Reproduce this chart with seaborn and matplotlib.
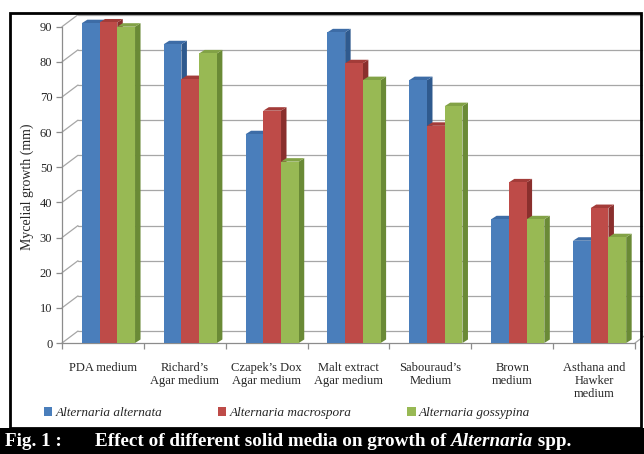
import matplotlib
matplotlib.use("Agg")
import matplotlib.pyplot as plt
import seaborn as sns
import pandas as pd
from matplotlib.patches import Polygon, Rectangle, Patch

# ---- data -------------------------------------------------------------
media = ["PDA medium", "Richard’s\nAgar medium", "Czapek’s Dox\nAgar medium",
         "Malt extract\nAgar medium", "Sabouraud’s\nMedium", "Brown\nmedium",
         "Asthana and\nHawker\nmedium"]
species = ["Alternaria alternata", "Alternaria macrospora", "Alternaria gossypina"]
alternata = [91.0, 85.0, 59.4, 88.4, 74.8, 35.2, 29.1]
macrospora = [91.2, 75.1, 66.1, 79.6, 61.8, 45.7, 38.4]
gossypina = [90.0, 82.4, 51.6, 74.8, 67.4, 35.2, 30.1]
y_ticks = list(range(0, 91, 10))

front_colors = ["#4a7ebb", "#be4b48", "#98b954"]
side_colors = ["#2f5a8e", "#8a2f2d", "#6a8a36"]
top_colors = ["#3d6ca6", "#a33c39", "#82a246"]

df = pd.DataFrame({
    "medium": media * 3,
    "species": [s for s in species for _ in media],
    "value": alternata + macrospora + gossypina,
})

sns.set_theme(style="white")
plt.rcParams["font.family"] = ["Liberation Serif", "DejaVu Serif"]

W, H = 644, 454
fig = plt.figure(figsize=(W / 100, H / 100), dpi=100)

# axes placement in pixels
x0_px, x1_px = 62, 635
y0_px, y90_px = 343, 26.7
ax = fig.add_axes([x0_px / W, 1 - y0_px / H, (x1_px - x0_px) / W, (y0_px - y90_px) / H])

sns.barplot(data=df, x="medium", y="value", hue="species", order=media,
            hue_order=species, palette=front_colors, width=0.65, saturation=1,
            legend=False, ax=ax, linewidth=0, edgecolor="none")

ax.set_xlim(-0.5, 6.5)
ax.set_ylim(0, 90)

px_x = (x1_px - x0_px) / 7.0          # pixels per category
px_y = (y0_px - y90_px) / 90.0        # pixels per unit

# 3-D extrusion of each bar
shift = 5.5 / px_x
dx, dy = 5.5 / px_x, 3.5 / px_y
bars = sorted(ax.patches, key=lambda p: p.get_x())
for i, bar in enumerate(bars):
    bar.set_x(bar.get_x() + shift)
    bar.set_clip_on(False)
    col_idx = front_colors.index(matplotlib.colors.to_hex(bar.get_facecolor()))
    base = 3 + i * 0.1
    bar.set_zorder(base + 0.05)
    bx0, bx1 = bar.get_x(), bar.get_x() + bar.get_width()
    h = bar.get_height()
    side = Polygon([(bx1, 0), (bx1 + dx, dy), (bx1 + dx, h + dy), (bx1, h)],
                   closed=True, facecolor=side_colors[col_idx], edgecolor="none",
                   zorder=base, clip_on=False)
    top = Polygon([(bx0, h), (bx0 + dx, h + dy), (bx1 + dx, h + dy), (bx1, h)],
                  closed=True, facecolor=top_colors[col_idx], edgecolor="none",
                  zorder=base, clip_on=False)
    ax.add_patch(side)
    ax.add_patch(top)

# back wall gridlines and side wall diagonals
gdx, gdy = 16 / px_x, 12 / px_y
grid_col = "#a6a6a6"
for v in y_ticks:
    ax.plot([-0.5 + gdx, 6.5 + 0.08], [v + gdy, v + gdy], color=grid_col, lw=0.9,
            zorder=1, clip_on=False)
    ax.plot([-0.5, -0.5 + gdx], [v, v + gdy], color=grid_col, lw=0.9,
            zorder=1, clip_on=False)
ax.plot([6.5, 6.5 + gdx * 0.6], [0, gdy * 0.6], color=grid_col, lw=0.9,
        zorder=1, clip_on=False)

# axes styling
for s in ["top", "right"]:
    ax.spines[s].set_visible(False)
for s in ["left", "bottom"]:
    ax.spines[s].set_color("#8c8c8c")
    ax.spines[s].set_linewidth(0.9)
ax.set_yticks(y_ticks)
ax.set_yticklabels([str(v) for v in y_ticks], fontsize=9)
ax.tick_params(axis="y", left=True, length=4, width=0.9, color="#8c8c8c", pad=3)
ax.set_xticks(range(7))
ax.set_xticklabels(media, fontsize=9, linespacing=1.1)
ax.tick_params(axis="x", bottom=False, pad=8)
ax.set_xticks([k - 0.5 for k in range(8)], minor=True)
ax.tick_params(axis="x", which="minor", bottom=True, length=4, width=0.9,
               color="#8c8c8c", direction="out")
ax.set_xlabel("")
ax.set_ylabel("")
ax.grid(False)
ax.set_facecolor("none")

fig.text(27 / W, 1 - 187 / H, "Mycelial growth (mm)", rotation=90,
         ha="center", va="center", fontsize=10)

# legend
handles = [Patch(facecolor=c, edgecolor="none") for c in front_colors]
leg = fig.legend(handles, species, loc="center", bbox_to_anchor=(287 / W, 1 - 413 / H),
                 ncol=3, frameon=False, prop={"style": "italic", "size": 9.5},
                 handlelength=0.65, handleheight=0.65, handletextpad=0.25,
                 columnspacing=4.2)

# outer frame
fig.patches.append(Rectangle((10 / W, 1 - 428 / H), 631 / W, 415 / H,
                             transform=fig.transFigure, fill=False,
                             edgecolor="black", lw=2))

# caption band
fig.patches.append(Rectangle((0, 0), 1, 26 / H, transform=fig.transFigure,
                             facecolor="black", edgecolor="none"))
cap_y = 1 - 441 / H
cap_fs = 13.8
fig.text(5 / W, cap_y, "Fig. 1 :", color="white", fontweight="bold",
         fontsize=cap_fs, va="center", ha="left")
t1 = fig.text(95 / W, cap_y, "Effect of different solid media on growth of ",
              color="white", fontweight="bold", fontsize=cap_fs, va="center", ha="left")
renderer = fig.canvas.get_renderer()
bb = t1.get_window_extent(renderer)
t2 = fig.text(bb.x1 / W, cap_y, "Alternaria", color="white", fontweight="bold",
              fontstyle="italic", fontsize=cap_fs, va="center", ha="left")
bb2 = t2.get_window_extent(renderer)
fig.text(bb2.x1 / W, cap_y, " spp.", color="white", fontweight="bold",
         fontsize=cap_fs, va="center", ha="left")

fig.savefig("out.png", dpi=100, facecolor="white")
